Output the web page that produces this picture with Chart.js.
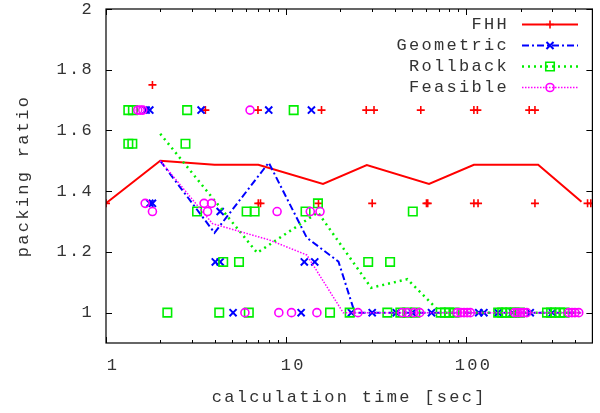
<!DOCTYPE html>
<html><head><meta charset="utf-8">
<script src="https://cdn.jsdelivr.net/npm/chart.js@4/dist/chart.umd.min.js"></script>
<style>html,body{margin:0;padding:0;background:#fff}#wrap{width:600px;height:413px}</style>
</head><body><div id="wrap"><canvas id="c" width="600" height="413"></canvas></div>
<script>
const seriesNames = ['FHH', 'Geometric', 'Rollback', 'Feasible'];
const xTickValues = [1, 10, 100];
const yTickValues = [1, 1.2, 1.4, 1.6, 1.8, 2];
const xTitle = 'calculation time [sec]';
const yTitle = 'packing ratio';

// summary lines
const fhhLineX = [1, 2, 4, 7, 16, 28, 62, 110, 250, 435];
const fhhLineY = [1.36, 1.5, 1.487, 1.487, 1.424, 1.486, 1.424, 1.487, 1.487, 1.365];
const geoLineX = [2, 4, 8, 13, 19.5, 24, 435];
const geoLineY = [1.5, 1.263, 1.494, 1.247, 1.168, 1.0, 1.0];
const rbLineX = [2, 6.9, 15, 29.6, 47, 72, 435];
const rbLineY = [1.589, 1.197, 1.33, 1.082, 1.11, 1.0, 1.0];
const fsLineX = [2, 3.9, 8, 13, 20.7, 435];
const fsLineY = [1.5, 1.293, 1.24, 1.19, 1.0, 1.0];

// raw runs
const fhhPtsX = [1.81, 3.56, 6.97, 15.7, 27.8, 30.7, 55.8, 110, 115, 223, 240,
                 1, 7.0, 7.2, 15.1, 30, 60, 61, 110, 116, 240, 470, 490];
const fhhPtsY = [1.75, 1.667, 1.667, 1.667, 1.667, 1.667, 1.667, 1.667, 1.667, 1.667, 1.667,
                 1.36, 1.36, 1.36, 1.36, 1.36, 1.36, 1.36, 1.36, 1.36, 1.36, 1.36, 1.36];
const geoPtsX = [1.67, 1.75, 3.37, 8.0, 13.8, 1.75, 1.81, 4.3, 4.04, 4.3, 12.6, 14.4,
                 5.07, 12.1, 23, 30, 40.8, 50, 64, 117, 125, 150, 180, 226, 300];
const geoPtsY = [1.667, 1.667, 1.667, 1.667, 1.667, 1.36, 1.36, 1.333, 1.167, 1.167, 1.167, 1.167,
                 1, 1, 1, 1, 1, 1, 1, 1, 1, 1, 1, 1, 1];
const rbPtsX = [1.33, 1.41, 2.82, 11, 1.33, 1.4, 2.76, 15, 3.2, 6.03, 6.68, 12.8, 50.4,
                4.47, 5.47, 28.5, 37.7, 2.19, 4.25, 6.2, 17.5, 22.5, 36.4, 43, 47, 52,
                72, 76, 80, 86, 150, 158, 166, 175, 185, 198, 280, 295, 310, 330, 350];
const rbPtsY = [1.667, 1.667, 1.667, 1.667, 1.556, 1.556, 1.556, 1.36, 1.333, 1.333, 1.333, 1.333, 1.333,
                1.167, 1.167, 1.167, 1.167, 1, 1, 1, 1, 1, 1, 1, 1, 1,
                1, 1, 1, 1, 1, 1, 1, 1, 1, 1, 1, 1, 1, 1, 1];
const fsPtsX = [1.5, 1.55, 1.6, 6.3, 1.65, 3.5, 3.85, 1.81, 3.66, 8.9, 13.6, 15.4,
                5.9, 9.1, 10.7, 14.8, 25, 44, 47, 51, 55, 89, 93, 97, 101, 105,
                185, 192, 200, 208, 216, 370, 385, 400, 420];
const fsPtsY = [1.667, 1.667, 1.667, 1.667, 1.36, 1.36, 1.36, 1.333, 1.333, 1.333, 1.333, 1.333,
                1, 1, 1, 1, 1, 1, 1, 1, 1, 1, 1, 1, 1, 1,
                1, 1, 1, 1, 1, 1, 1, 1, 1];

const styles = [
  {color: '#ff0000', width: 2, dash: [], point: 'cross', radius: 4, pbw: 1.6},
  {color: '#0000ff', width: 2, dash: [7, 3, 2, 3], point: 'crossRot', radius: 5, pbw: 2},
  {color: '#00ee00', width: 2.5, dash: [2, 4], point: 'rect', radius: 6, pbw: 1.6},
  {color: '#ff00ff', width: 1.5, dash: [1.5, 1.5], point: 'circle', radius: 4, pbw: 1.6}
];

const zip = (xs, ys) => xs.map((x, i) => ({x: x, y: ys[i]}));
const lines = [[fhhLineX, fhhLineY], [geoLineX, geoLineY], [rbLineX, rbLineY], [fsLineX, fsLineY]];
const pts = [[fhhPtsX, fhhPtsY], [geoPtsX, geoPtsY], [rbPtsX, rbPtsY], [fsPtsX, fsPtsY]];

const datasets = [];
seriesNames.forEach((name, i) => {
  const s = styles[i];
  datasets.push({
    label: name, data: zip(lines[i][0], lines[i][1]), showLine: true,
    borderColor: s.color, borderWidth: s.width, borderDash: s.dash,
    pointRadius: 0, fill: false, tension: 0, order: 20 - 2 * i
  });
  datasets.push({
    label: name + ' runs', data: zip(pts[i][0], pts[i][1]), showLine: false,
    pointStyle: s.point, pointRadius: s.radius, pointBorderWidth: s.pbw,
    pointBorderColor: s.color, pointBackgroundColor: 'rgba(0,0,0,0)',
    borderColor: s.color, order: 19 - 2 * i
  });
});

const FONT = 'Liberation Mono';
const SPACING = '2.3px';

const spacingPlugin = {
  id: 'spacing',
  beforeUpdate(chart) { chart.ctx.letterSpacing = SPACING; },
  beforeLayout(chart) { chart.ctx.letterSpacing = SPACING; },
  beforeDraw(chart) { chart.ctx.letterSpacing = SPACING; }
};

const framePlugin = {
  id: 'frame',
  afterDraw(chart) {
    const ctx = chart.ctx, a = chart.chartArea;
    const xs = chart.scales.x, ys = chart.scales.y;
    ctx.save();
    ctx.strokeStyle = '#000'; ctx.lineWidth = 1.2;
    ctx.strokeRect(a.left, a.top, a.right - a.left, a.bottom - a.top);
    ctx.lineWidth = 1;
    ctx.beginPath();
    xTickValues.forEach(d => {
      for (let m = 1; m <= 9; m++) {
        const v = d * m;
        if (v > xs.max) break;
        const px = Math.round(xs.getPixelForValue(v)) + 0.5;
        const len = m === 1 ? 6 : 3;
        ctx.moveTo(px, a.bottom); ctx.lineTo(px, a.bottom - len);
        ctx.moveTo(px, a.top); ctx.lineTo(px, a.top + len);
      }
    });
    yTickValues.forEach(v => {
      const py = Math.round(ys.getPixelForValue(v)) + 0.5;
      ctx.moveTo(a.left, py); ctx.lineTo(a.left + 6, py);
      ctx.moveTo(a.right, py); ctx.lineTo(a.right - 6, py);
    });
    ctx.stroke();
    ctx.restore();
  }
};

const legendPlugin = {
  id: 'gpLegend',
  afterDraw(chart) {
    const ctx = chart.ctx;
    ctx.save();
    ctx.font = '17px "' + FONT + '"';
    ctx.letterSpacing = SPACING;
    ctx.textAlign = 'right';
    ctx.textBaseline = 'middle';
    seriesNames.forEach((name, i) => {
      const y = 24.5 + i * 21;
      const s = styles[i];
      ctx.fillStyle = '#333';
      ctx.fillText(name, 509, y);
      ctx.save();
      ctx.strokeStyle = s.color; ctx.lineWidth = s.width; ctx.setLineDash(s.dash);
      ctx.beginPath(); ctx.moveTo(522, y); ctx.lineTo(578, y); ctx.stroke();
      ctx.restore();
      ctx.save();
      ctx.strokeStyle = s.color; ctx.fillStyle = 'rgba(0,0,0,0)'; ctx.lineWidth = s.pbw; ctx.setLineDash([]);
      Chart.helpers.drawPoint(ctx, {pointStyle: s.point, radius: s.radius, borderWidth: s.pbw, rotation: 0}, 550, y);
      ctx.restore();
    });
    ctx.restore();
  }
};

new Chart(document.getElementById('c'), {
  type: 'scatter',
  data: {datasets: datasets},
  plugins: [spacingPlugin, framePlugin, legendPlugin],
  options: {
    responsive: false, animation: false, devicePixelRatio: 1,
    layout: {padding: {left: 0, right: 3, top: 9, bottom: 0}},
    plugins: {legend: {display: false}, tooltip: {enabled: false}},
    scales: {
      x: {
        type: 'logarithmic', min: 1, max: 500,
        afterBuildTicks: s => { s.ticks = xTickValues.map(v => ({value: v})); },
        afterFit: s => { s.height = 70; s.paddingLeft = 0; s.paddingRight = 0; },
        grid: {display: false, drawTicks: false},
        border: {display: false},
        ticks: {padding: 12, labelOffset: 7, color: '#333', font: {family: FONT, size: 17}, callback: v => String(v), autoSkip: false, maxRotation: 0},
        title: {display: true, text: xTitle, color: '#333', font: {family: FONT, size: 17}, padding: {top: 0, bottom: 5}}
      },
      y: {
        min: 0.9, max: 2,
        afterBuildTicks: s => { s.ticks = yTickValues.map(v => ({value: v})); },
        afterFit: s => { s.width = 106; s.paddingTop = 0; s.paddingBottom = 0; },
        grid: {display: false, drawTicks: false},
        border: {display: false},
        ticks: {padding: 12, color: '#333', font: {family: FONT, size: 17, lineHeight: 1}, callback: v => String(+v.toFixed(1)), autoSkip: false},
        title: {display: true, text: yTitle, color: '#333', font: {family: FONT, size: 17}, padding: {top: 13, bottom: 0}}
      }
    }
  }
});
</script></body></html>
